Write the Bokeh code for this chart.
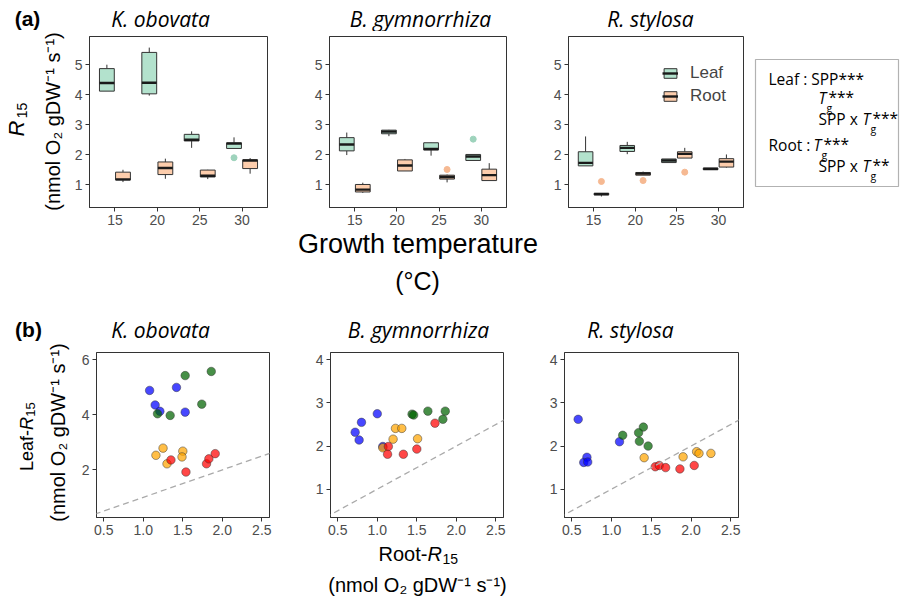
import numpy as np
from bokeh.plotting import figure
from bokeh.layouts import row, column
from bokeh.models import (Label, FixedTicker, Slope, Legend, LegendItem,
                          ColumnDataSource, Range1d, Spacer, BoxAnnotation,
                          PrintfTickFormatter)
from bokeh.embed import file_html
from bokeh.resources import INLINE

# ---------------- data ----------------
species = ["K. obovata", "B. gymnorrhiza", "R. stylosa"]
temps = ["15", "20", "25", "30"]
tissues = ["Leaf", "Root"]

# box stats per temperature: [lower whisker, q1, median, q3, upper whisker]
ko_leaf = [[4.12, 4.12, 4.39, 4.87, 5.00], [3.97, 4.03, 4.40, 5.41, 5.57],
           [2.23, 2.46, 2.50, 2.68, 2.78], [2.21, 2.21, 2.37, 2.40, 2.58]]
ko_root = [[1.09, 1.16, 1.18, 1.42, 1.50], [1.20, 1.34, 1.56, 1.76, 1.87],
           [1.19, 1.26, 1.30, 1.49, 1.50], [1.37, 1.54, 1.81, 1.83, 1.89]]
bg_leaf = [[1.99, 2.13, 2.34, 2.57, 2.74], [2.62, 2.70, 2.77, 2.82, 2.83],
           [1.97, 2.16, 2.19, 2.40, 2.41], [1.81, 1.81, 1.94, 2.01, 2.01]]
bg_root = [[0.73, 0.76, 0.84, 1.01, 1.07], [1.46, 1.46, 1.64, 1.83, 1.86],
           [1.08, 1.19, 1.26, 1.32, 1.34], [1.14, 1.14, 1.32, 1.52, 1.72]]
rs_leaf = [[1.63, 1.63, 1.73, 2.10, 2.61], [2.02, 2.11, 2.23, 2.31, 2.43],
           [1.74, 1.74, 1.81, 1.86, 1.86], [1.50, 1.50, 1.53, 1.56, 1.56]]
rs_root = [[0.61, 0.66, 0.69, 0.72, 0.72], [1.32, 1.32, 1.37, 1.41, 1.44],
           [1.89, 1.89, 2.03, 2.10, 2.23], [1.57, 1.59, 1.77, 1.87, 2.01]]

# outliers: (temperature index 1..4, value)
ko_leaf_out = [(4, 1.90)]
ko_root_out = []
bg_leaf_out = [(4, 2.52)]
bg_root_out = [(3, 1.51)]
rs_leaf_out = []
rs_root_out = [(1, 1.11), (2, 1.14), (3, 1.42)]

# scatter: root R15 (x) and leaf R15 (y) per growth temperature
ko_root_15 = [1.08, 1.15, 1.21, 1.42, 1.53]; ko_leaf_15 = [4.89, 4.36, 4.13, 5.00, 4.10]
ko_root_20 = [1.53, 1.86, 1.74, 1.34, 1.18]; ko_leaf_20 = [5.43, 5.58, 4.39, 3.98, 4.04]
ko_root_25 = [1.16, 1.25, 1.30, 1.50, 1.49]; ko_leaf_25 = [2.53, 2.79, 2.22, 2.68, 2.47]
ko_root_30 = [1.35, 1.54, 1.80, 1.83, 1.91]; ko_leaf_30 = [2.36, 1.92, 2.22, 2.40, 2.59]

bg_root_15 = [1.00, 0.80, 0.72, 0.77, 1.07]; bg_leaf_15 = [2.75, 2.55, 2.32, 2.14, 1.99]
bg_root_20 = [1.44, 1.46, 1.64, 1.86, 1.83]; bg_leaf_20 = [2.74, 2.72, 2.81, 2.81, 2.62]
bg_root_25 = [1.23, 1.31, 1.20, 1.51, 1.07]; bg_leaf_25 = [2.41, 2.41, 2.16, 2.17, 1.96]
bg_root_30 = [1.73, 1.14, 1.13, 1.33, 1.50]; bg_leaf_30 = [2.53, 1.99, 1.81, 1.81, 1.93]

rs_root_15 = [0.58, 1.10, 0.69, 0.65, 0.70]; rs_leaf_15 = [2.62, 2.10, 1.74, 1.62, 1.63]
rs_root_20 = [1.14, 1.40, 1.34, 1.35, 1.46]; rs_leaf_20 = [2.25, 2.44, 2.31, 2.11, 2.00]
rs_root_25 = [1.41, 1.90, 2.07, 2.10, 2.25]; rs_leaf_25 = [1.73, 1.75, 1.87, 1.83, 1.83]
rs_root_30 = [1.55, 1.60, 1.68, 1.86, 2.04]; rs_leaf_30 = [1.52, 1.55, 1.50, 1.47, 1.55]

box_y_ticks = [1, 2, 3, 4, 5]
ko_y_ticks = [2, 4, 6]
other_y_ticks = [1, 2, 3, 4]
x_ticks_b = [0.5, 1.0, 1.5, 2.0, 2.5]

unit_text = "(nmol O\u2082 gDW\u207b\u00b9 s\u207b\u00b9)"

# ---------------- styles ----------------
W, H = 901, 598
LW = 70          # width of the left label column
LEAF = "#B3E2CD"
ROOT = "#FDCDAC"
TEMP_COLORS = ["blue", "darkgreen", "orange", "red"]
SANS = "Liberation Sans"
TITLE_FONT = "Open Sans"
EDGE = "#333333"
UP = np.pi / 2


def base_fig(w, h, left, right, top, bottom, xr, yr):
    p = figure(width=w, height=h, x_range=Range1d(*xr), y_range=Range1d(*yr),
               output_backend="svg", toolbar_location=None,
               min_border_left=left, min_border_right=right,
               min_border_top=top, min_border_bottom=bottom)
    p.xgrid.visible = False
    p.ygrid.visible = False
    p.outline_line_color = EDGE
    p.outline_line_width = 1
    p.background_fill_color = "white"
    p.border_fill_color = "white"
    for ax in (p.xaxis[0], p.yaxis[0]):
        ax.axis_line_color = EDGE
        ax.major_tick_line_color = EDGE
        ax.major_tick_in = 0
        ax.major_tick_out = 4
        ax.minor_tick_line_color = None
        ax.major_label_text_font = SANS
        ax.major_label_text_font_size = "14px"
        ax.major_label_text_color = "#4D4D4D"
        ax.major_label_standoff = 3
    return p


def strip(w, h, x0, y_top):
    """text-only figure whose frame is the whole canvas, in page pixel coords"""
    s = figure(width=w, height=h, x_range=Range1d(x0, x0 + w),
               y_range=Range1d(y_top + h, y_top), output_backend="svg",
               toolbar_location=None, x_axis_location=None, y_axis_location=None,
               min_border_left=0, min_border_right=0, min_border_top=0,
               min_border_bottom=0)
    s.xgrid.visible = False
    s.ygrid.visible = False
    s.outline_line_color = None
    s.background_fill_color = "white"
    s.border_fill_color = "white"
    return s


def txt(fig, x, y, t, size="16px", font=SANS, style="normal", align="center", angle=0.0):
    fig.add_layout(Label(x=x, y=y, text=t, text_font=font, text_font_size=size,
                         text_font_style=style, text_color="black",
                         text_align=align, text_baseline="middle", angle=angle))


def draw_boxes(p, stats, outl, off, color, outl_color):
    xs = [i + 1 + off for i in range(len(stats))]
    src = ColumnDataSource(dict(
        x=xs, xl=[x - 0.175 for x in xs], xr=[x + 0.175 for x in xs],
        lo=[s[0] for s in stats], q1=[s[1] for s in stats],
        med=[s[2] for s in stats], q3=[s[3] for s in stats],
        hi=[s[4] for s in stats]))
    p.segment(x0="x", x1="x", y0="q3", y1="hi", source=src, line_color=EDGE, line_width=1)
    p.segment(x0="x", x1="x", y0="lo", y1="q1", source=src, line_color=EDGE, line_width=1)
    rb = p.vbar(x="x", width=0.35, bottom="q1", top="q3", source=src,
                fill_color=color, line_color=EDGE, line_width=1)
    rm = p.segment(x0="xl", x1="xr", y0="med", y1="med", source=src,
                   line_color="#1a1a1a", line_width=2.4)
    if outl:
        p.scatter([o[0] + off for o in outl], [o[1] for o in outl], size=6,
                  fill_color=outl_color, line_color=outl_color)
    return rb, rm


# ---------------- left label column (whole page height) ----------------
ylab = strip(LW, H, 0, 0)
txt(ylab, 27, 18, "(a)", size="21px", style="bold")
txt(ylab, 16, 128, "R", size="22px", style="italic", angle=UP)
txt(ylab, 21, 110, "15", size="14px", angle=UP)
txt(ylab, 52, 121, unit_text, size="20px", angle=UP)
txt(ylab, 28, 329, "(b)", size="21px", style="bold")
txt(ylab, 26, 450, "Leaf-", size="18px", angle=UP)
txt(ylab, 26, 423, "R", size="18px", style="italic", angle=UP)
txt(ylab, 30, 409, "15", size="13px", angle=UP)
txt(ylab, 57, 432, unit_text, size="20px", angle=UP)

MW = W - LW      # main column width

# ---------------- strip above row (a) ----------------
SA_H = 31
sA = strip(MW, SA_H, LW, 0)
for x, name in zip([160, 420, 650], species):
    txt(sA, x, 18, name, size="21px", font=TITLE_FONT, style="italic")

# ---------------- row (a): boxplots ----------------
A_TOP, A_FR, A_BOT = 36 - SA_H, 171, 57
A_H = A_TOP + A_FR + A_BOT
top_specs = [(298 - LW, 89 - LW, 31), (240, 31, 32), (212, 30, 7)]
box_data = [(ko_leaf, ko_leaf_out, ko_root, ko_root_out),
            (bg_leaf, bg_leaf_out, bg_root, bg_root_out),
            (rs_leaf, rs_leaf_out, rs_root, rs_root_out)]
top_figs = []
for i, (w, l, r) in enumerate(top_specs):
    p = base_fig(w, A_H, l, r, A_TOP, A_BOT, (0.4, 4.6), (0.243, 5.94))
    p.xaxis.ticker = FixedTicker(ticks=[1, 2, 3, 4])
    p.xaxis.major_label_overrides = {k + 1: t for k, t in enumerate(temps)}
    p.yaxis.ticker = FixedTicker(ticks=box_y_ticks)
    lf, lo, rt, ro = box_data[i]
    rl = draw_boxes(p, lf, lo, -0.19, LEAF, "#9ED3BC")
    rr = draw_boxes(p, rt, ro, 0.19, ROOT, "#F6B992")
    if i == 1:
        p.xaxis.axis_label = "Growth temperature"
        p.xaxis.axis_label_text_font = SANS
        p.xaxis.axis_label_text_font_size = "27px"
        p.xaxis.axis_label_text_font_style = "normal"
        p.xaxis.axis_label_text_color = "black"
        p.xaxis.axis_label_standoff = 1
    if i == 2:
        leg = Legend(items=[LegendItem(label=tissues[0], renderers=list(rl)),
                            LegendItem(label=tissues[1], renderers=list(rr))],
                     location=(94, 101), margin=0, padding=0, spacing=3,
                     glyph_width=16, glyph_height=12, label_height=20,
                     label_standoff=12, border_line_alpha=0,
                     background_fill_alpha=0,
                     label_text_font=SANS, label_text_font_size="17px")
        p.add_layout(leg)
    top_figs.append(p)

# statistics box (same vertical borders as the panels, frame = page coords)
sb = figure(width=151, height=A_H, x_range=Range1d(750, 901),
            y_range=Range1d(SA_H + A_TOP + A_FR, SA_H + A_TOP),
            output_backend="svg", toolbar_location=None,
            x_axis_location=None, y_axis_location=None,
            min_border_left=0, min_border_right=0, min_border_top=A_TOP,
            min_border_bottom=A_BOT)
sb.xgrid.visible = False
sb.ygrid.visible = False
sb.outline_line_color = None
sb.add_layout(BoxAnnotation(left=755, right=898, top=59, bottom=186,
                            fill_alpha=0, line_color="black", line_width=1.2))
SF = "Open Sans"
FS = "15.5px"
GS = "10.5px"
txt(sb, 768, 78, "Leaf : SPP***", size=FS, font=SF, align="left")
txt(sb, 818, 97, "T", size=FS, font=SF, style="italic", align="left")
txt(sb, 826, 107, "g", size=GS, font=SF, align="left")
txt(sb, 828, 96, "***", size=FS, font=SF, align="left")
txt(sb, 818, 118, "SPP x", size=FS, font=SF, align="left")
txt(sb, 862, 118, "T", size=FS, font=SF, style="italic", align="left")
txt(sb, 870, 128, "g", size=GS, font=SF, align="left")
txt(sb, 872, 117, "***", size=FS, font=SF, align="left")
txt(sb, 768, 144, "Root :", size=FS, font=SF, align="left")
txt(sb, 813, 144, "T", size=FS, font=SF, style="italic", align="left")
txt(sb, 821, 154, "g", size=GS, font=SF, align="left")
txt(sb, 823, 143, "***", size=FS, font=SF, align="left")
txt(sb, 818, 165, "SPP x", size=FS, font=SF, align="left")
txt(sb, 862, 165, "T", size=FS, font=SF, style="italic", align="left")
txt(sb, 870, 175, "g", size=GS, font=SF, align="left")
txt(sb, 872, 164, "**", size=FS, font=SF, align="left")

# ---------------- strip below row (a) ----------------
y0 = SA_H + A_H
sAx = strip(MW, 300 - y0, LW, y0)
txt(sAx, 417, 280, "(\u00b0C)", size="25px")

# ---------------- strip above row (b) ----------------
SB_H = 45
sB = strip(MW, SB_H, LW, 300)
for x, name in zip([160, 418, 630], species):
    txt(sB, x, 329, name, size="21px", font=TITLE_FONT, style="italic")

# ---------------- row (b): scatter ----------------
B_TOP, B_FR, B_BOT = 352 - 300 - SB_H, 165, 27
B_H = B_TOP + B_FR + B_BOT
bot_specs = [
    (298 - LW, 96 - LW, 29, (0.266, 6.27), ko_y_ticks),
    (240, 32, 35, (0.343, 4.17), other_y_ticks),
    (212, 26, 12, (0.343, 4.17), other_y_ticks),
]
scatter_data = [
    [(ko_root_15, ko_leaf_15), (ko_root_20, ko_leaf_20), (ko_root_25, ko_leaf_25), (ko_root_30, ko_leaf_30)],
    [(bg_root_15, bg_leaf_15), (bg_root_20, bg_leaf_20), (bg_root_25, bg_leaf_25), (bg_root_30, bg_leaf_30)],
    [(rs_root_15, rs_leaf_15), (rs_root_20, rs_leaf_20), (rs_root_25, rs_leaf_25), (rs_root_30, rs_leaf_30)],
]
bot_figs = []
for i, (w, l, r, yr, yt) in enumerate(bot_specs):
    p = base_fig(w, B_H, l, r, B_TOP, B_BOT, (0.408, 2.597), yr)
    p.xaxis.ticker = FixedTicker(ticks=x_ticks_b)
    p.xaxis.formatter = PrintfTickFormatter(format="%.1f")
    p.yaxis.ticker = FixedTicker(ticks=yt)
    p.add_layout(Slope(gradient=1, y_intercept=0, line_color="#AAAAAA",
                       line_dash="6 4", line_width=1.3))
    for k, (xs, ys) in enumerate(scatter_data[i]):
        p.scatter(xs, ys, size=8.5, fill_color=TEMP_COLORS[k], fill_alpha=0.72,
                  line_color="#333333", line_alpha=0.6, line_width=0.8)
    bot_figs.append(p)

# ---------------- strip below row (b) ----------------
y1 = 300 + SB_H + B_H
sBx = strip(MW, H - y1, LW, y1)
txt(sBx, 378, 553, "Root-", size="20px", align="left")
txt(sBx, 427, 553, "R", size="20px", style="italic", align="left")
txt(sBx, 442, 558, "15", size="14px", align="left")
txt(sBx, 417, 584, unit_text, size="20px")

main = column(sA, row(*top_figs, sb), sAx, sB,
              row(*bot_figs, Spacer(width=151, height=B_H)), sBx)
layout = row(ylab, main)

open("out.html", "w").write(file_html(layout, INLINE))
